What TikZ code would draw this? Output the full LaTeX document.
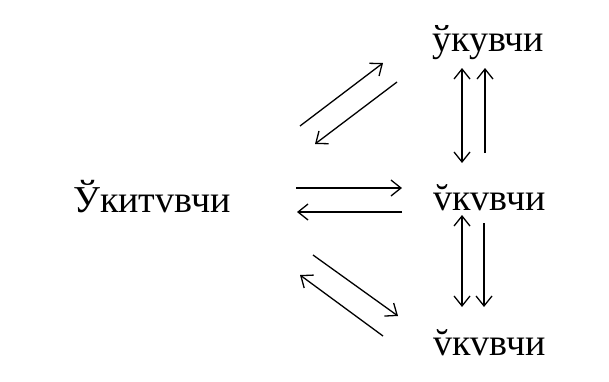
\documentclass[tikz,border=0pt]{standalone}
\usepackage{fontspec}
\setmainfont{Liberation Serif}
\usetikzlibrary{arrows.meta}
\tikzset{
  lbl/.style={anchor=base west, inner sep=0pt, font=\fontsize{38}{42}\selectfont},
  tip/.tip={Straight Barb[length=10pt,width=16pt,line width=1.3pt]},
  arr/.style={line width=1.3pt, -tip},
  darr/.style={line width=1.3pt, tip-tip}
}
\begin{document}
\begin{tikzpicture}[x=1pt,y=-1pt]
\useasboundingbox (0,0) rectangle (609,381);
\fill[white] (0,0) rectangle (609,381);
\node[lbl] (L) at (73,212) {Ўкитvвчи};
\node[lbl] (T) at (432,51) {ўкувчи};
\node[lbl] (M) at (433,210) {v̆кvвчи};
\node[lbl] (B) at (433,355) {v̆кvвчи};
% top diagonal
\coordinate (a1) at (300,126); \coordinate (a2) at (383,63);
\coordinate (b1) at (397,82); \coordinate (b2) at (315,144);
\draw[arr] (a1) -- (a2);
\draw[arr] (b1) -- (b2);
% horizontal
\coordinate (c1) at (296,188); \coordinate (c2) at (402,188);
\coordinate (d1) at (402,212); \coordinate (d2) at (297,212);
\draw[arr] (c1) -- (c2);
\draw[arr] (d1) -- (d2);
% bottom diagonal
\coordinate (e1) at (313,255); \coordinate (e2) at (398,316);
\coordinate (f1) at (383,336); \coordinate (f2) at (300,275);
\draw[arr] (e1) -- (e2);
\draw[arr] (f1) -- (f2);
% verticals top-mid
\coordinate (g1) at (462,68); \coordinate (g2) at (462,163);
\coordinate (h1) at (485,153); \coordinate (h2) at (485,68);
\draw[darr] (g1) -- (g2);
\draw[arr] (h1) -- (h2);
% verticals mid-bottom
\coordinate (i1) at (462,215); \coordinate (i2) at (462,307);
\coordinate (j1) at (484,223); \coordinate (j2) at (484,307);
\draw[darr] (i1) -- (i2);
\draw[arr] (j1) -- (j2);
\end{tikzpicture}
\end{document}
